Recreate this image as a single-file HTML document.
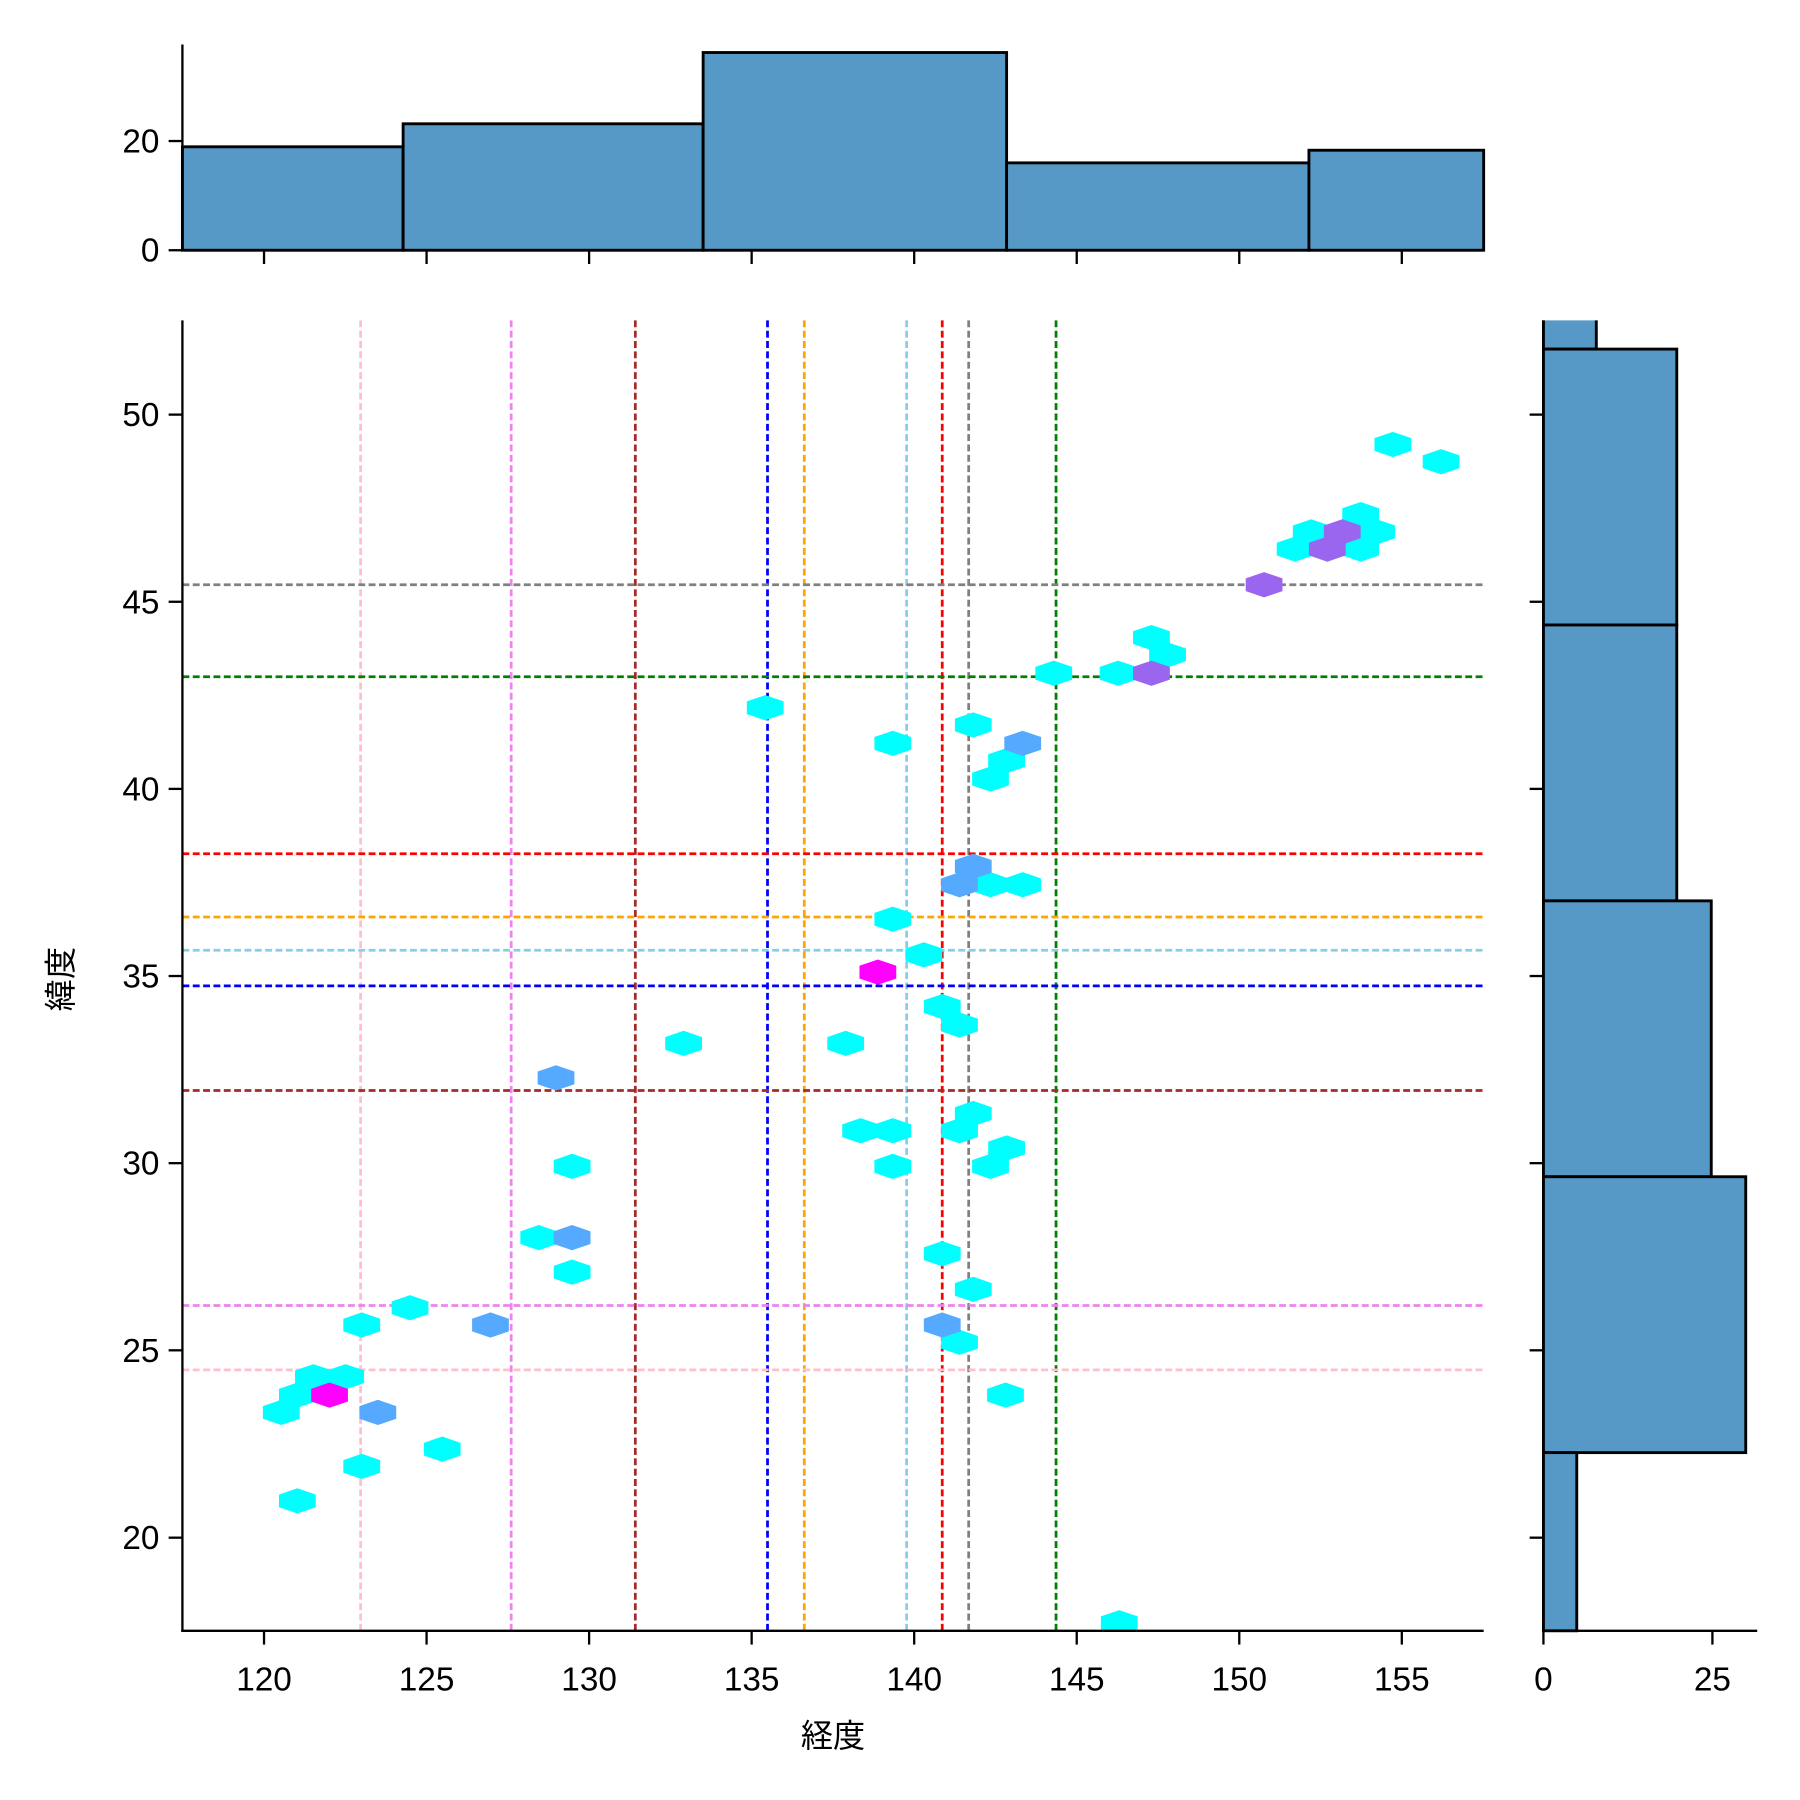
<!DOCTYPE html>
<html><head><meta charset="utf-8"><style>html,body{margin:0;padding:0;background:#fff}svg{display:block}</style></head>
<body>
<svg width="1800" height="1800" viewBox="0 0 1800 1800" xmlns="http://www.w3.org/2000/svg" font-family="Liberation Sans, Noto Sans CJK JP, sans-serif">
<rect width="1800" height="1800" fill="#fff"/>
<g transform="translate(-1.5,-1.5) scale(1.1495)">
<!-- top histogram -->
<g fill="#5799c6" stroke="#000" stroke-width="2.5">
<rect x="160" y="129" width="192" height="90"/>
<rect x="352" y="109" width="261" height="110"/>
<rect x="613" y="47" width="264" height="172"/>
<rect x="877" y="143" width="263" height="76"/>
<rect x="1140" y="132" width="152" height="87"/>
</g>
<g stroke="#000" stroke-width="2" fill="none">
<line x1="160" y1="40" x2="160" y2="220"/>
<line x1="159" y1="219" x2="1292" y2="219"/>
<line x1="148" y1="219" x2="160" y2="219"/><line x1="148" y1="124" x2="160" y2="124"/>
<line x1="231" y1="219" x2="231" y2="231"/><line x1="372.4" y1="219" x2="372.4" y2="231"/><line x1="513.8" y1="219" x2="513.8" y2="231"/><line x1="655.2" y1="219" x2="655.2" y2="231"/><line x1="796.6" y1="219" x2="796.6" y2="231"/><line x1="938" y1="219" x2="938" y2="231"/><line x1="1079.4" y1="219" x2="1079.4" y2="231"/><line x1="1220.8" y1="219" x2="1220.8" y2="231"/>
</g>
<g font-size="29" text-anchor="end" fill="#000">
<text x="140" y="229">0</text><text x="140" y="134">20</text>
</g>

<!-- right histogram -->
<g fill="#5799c6" stroke="#000" stroke-width="2.5">
<rect x="1344" y="270" width="46" height="35"/>
<rect x="1344" y="305" width="116" height="240"/>
<rect x="1344" y="545" width="116" height="240"/>
<rect x="1344" y="785" width="146" height="240"/>
<rect x="1344" y="1025" width="176" height="240"/>
<rect x="1344" y="1265" width="29" height="155"/>
</g>
<rect x="1330" y="250" width="220" height="30" fill="#fff"/>
<g stroke="#000" stroke-width="2" fill="none">
<line x1="1344" y1="280" x2="1344" y2="1421"/>
<line x1="1343" y1="1420" x2="1530" y2="1420"/>
<line x1="1344" y1="1420" x2="1344" y2="1432"/><line x1="1491" y1="1420" x2="1491" y2="1432"/>
<line x1="1332" y1="362" x2="1344" y2="362"/><line x1="1332" y1="524.8" x2="1344" y2="524.8"/><line x1="1332" y1="687.6" x2="1344" y2="687.6"/><line x1="1332" y1="850.4" x2="1344" y2="850.4"/><line x1="1332" y1="1013.2" x2="1344" y2="1013.2"/><line x1="1332" y1="1176" x2="1344" y2="1176"/><line x1="1332" y1="1339" x2="1344" y2="1339"/>
</g>
<g font-size="29" text-anchor="middle" fill="#000">
<text x="1344" y="1472">0</text><text x="1491" y="1472">25</text>
</g>

<!-- dashed lines -->
<g stroke-width="2.4" stroke-dasharray="6,3" fill="none">
<line x1="315" y1="280" x2="315" y2="1420" stroke="pink"/>
<line x1="446" y1="280" x2="446" y2="1420" stroke="violet"/>
<line x1="554" y1="280" x2="554" y2="1420" stroke="brown"/>
<line x1="669" y1="280" x2="669" y2="1420" stroke="blue"/>
<line x1="701" y1="280" x2="701" y2="1420" stroke="orange"/>
<line x1="790" y1="280" x2="790" y2="1420" stroke="skyblue"/>
<line x1="821" y1="280" x2="821" y2="1420" stroke="red"/>
<line x1="844" y1="280" x2="844" y2="1420" stroke="gray"/>
<line x1="920" y1="280" x2="920" y2="1420" stroke="green"/>
<line x1="160" y1="510" x2="1292" y2="510" stroke="gray"/>
<line x1="160" y1="590" x2="1292" y2="590" stroke="green"/>
<line x1="160" y1="744" x2="1292" y2="744" stroke="red"/>
<line x1="160" y1="799" x2="1292" y2="799" stroke="orange"/>
<line x1="160" y1="828" x2="1292" y2="828" stroke="skyblue"/>
<line x1="160" y1="859" x2="1292" y2="859" stroke="blue"/>
<line x1="160" y1="950" x2="1292" y2="950" stroke="brown"/>
<line x1="160" y1="1137" x2="1292" y2="1137" stroke="violet"/>
<line x1="160" y1="1193" x2="1292" y2="1193" stroke="pink"/>
</g>

<!-- hexes -->
<defs><polygon id="h" points="0,-11 16,-5.5 16,5.5 0,11 -16,5.5 -16,-5.5"/></defs>
<g fill="#00ffff">
<use href="#h" x="1213" y="388"/><use href="#h" x="1255" y="403"/><use href="#h" x="1185" y="449"/><use href="#h" x="1142" y="464"/><use href="#h" x="1199" y="464"/><use href="#h" x="1128" y="479"/><use href="#h" x="1185" y="479"/><use href="#h" x="1003" y="556"/><use href="#h" x="1017" y="571"/><use href="#h" x="918" y="587"/><use href="#h" x="974" y="587"/><use href="#h" x="667" y="617"/><use href="#h" x="848" y="632"/><use href="#h" x="778" y="648"/><use href="#h" x="877" y="663"/><use href="#h" x="863" y="679"/><use href="#h" x="863" y="771"/><use href="#h" x="891" y="771"/><use href="#h" x="778" y="801"/><use href="#h" x="805" y="832"/><use href="#h" x="821" y="877"/><use href="#h" x="836" y="893"/><use href="#h" x="596" y="909"/><use href="#h" x="737" y="909"/><use href="#h" x="848" y="970"/><use href="#h" x="750" y="985"/><use href="#h" x="778" y="985"/><use href="#h" x="836" y="985"/><use href="#h" x="877" y="1000"/><use href="#h" x="499" y="1016"/><use href="#h" x="778" y="1016"/><use href="#h" x="863" y="1016"/><use href="#h" x="470" y="1078"/><use href="#h" x="499" y="1108"/><use href="#h" x="821" y="1092"/><use href="#h" x="848" y="1123"/><use href="#h" x="358" y="1139"/><use href="#h" x="316" y="1154"/><use href="#h" x="836" y="1169"/><use href="#h" x="302" y="1199"/><use href="#h" x="274" y="1199"/><use href="#h" x="260" y="1215"/><use href="#h" x="246" y="1230"/><use href="#h" x="876" y="1215"/><use href="#h" x="316" y="1277"/><use href="#h" x="386" y="1262"/><use href="#h" x="260" y="1307"/><use href="#h" x="975" y="1413"/>
</g>
<g fill="#55aaff">
<use href="#h" x="891" y="648"/><use href="#h" x="848" y="755"/><use href="#h" x="836" y="771"/><use href="#h" x="485" y="939"/><use href="#h" x="499" y="1078"/><use href="#h" x="428" y="1154"/><use href="#h" x="821" y="1154"/><use href="#h" x="330" y="1230"/>
</g>
<g fill="#9a66f0">
<use href="#h" x="1169" y="464"/><use href="#h" x="1156" y="479"/><use href="#h" x="1101" y="510"/><use href="#h" x="1003" y="587"/>
</g>
<g fill="#ff00ff">
<use href="#h" x="765" y="847"/><use href="#h" x="288" y="1215"/>
</g>
<rect x="150" y="1421" width="1190" height="20" fill="#fff"/>

<!-- main axes -->
<g stroke="#000" stroke-width="2" fill="none">
<line x1="160" y1="280" x2="160" y2="1421"/>
<line x1="159" y1="1420" x2="1292" y2="1420"/>
<line x1="231" y1="1420" x2="231" y2="1432"/><line x1="372.4" y1="1420" x2="372.4" y2="1432"/><line x1="513.8" y1="1420" x2="513.8" y2="1432"/><line x1="655.2" y1="1420" x2="655.2" y2="1432"/><line x1="796.6" y1="1420" x2="796.6" y2="1432"/><line x1="938" y1="1420" x2="938" y2="1432"/><line x1="1079.4" y1="1420" x2="1079.4" y2="1432"/><line x1="1220.8" y1="1420" x2="1220.8" y2="1432"/>
<line x1="148" y1="362" x2="160" y2="362"/><line x1="148" y1="524.8" x2="160" y2="524.8"/><line x1="148" y1="687.6" x2="160" y2="687.6"/><line x1="148" y1="850.4" x2="160" y2="850.4"/><line x1="148" y1="1013.2" x2="160" y2="1013.2"/><line x1="148" y1="1176" x2="160" y2="1176"/><line x1="148" y1="1339" x2="160" y2="1339"/>
</g>
<g font-size="29" text-anchor="middle" fill="#000">
<text x="231" y="1472">120</text><text x="372.4" y="1472">125</text><text x="513.8" y="1472">130</text><text x="655.2" y="1472">135</text><text x="796.6" y="1472">140</text><text x="938" y="1472">145</text><text x="1079.4" y="1472">150</text><text x="1220.8" y="1472">155</text>
</g>
<g font-size="29" text-anchor="end" fill="#000">
<text x="140" y="372">50</text><text x="140" y="534.8">45</text><text x="140" y="697.6">40</text><text x="140" y="860.4">35</text><text x="140" y="1023.2">30</text><text x="140" y="1186">25</text><text x="140" y="1349">20</text>
</g>
<text x="726" y="1521" font-size="28" text-anchor="middle">経度</text>
<text transform="translate(64,853) rotate(-90)" font-size="28" text-anchor="middle">緯度</text>
</g>
</svg>
</body></html>
